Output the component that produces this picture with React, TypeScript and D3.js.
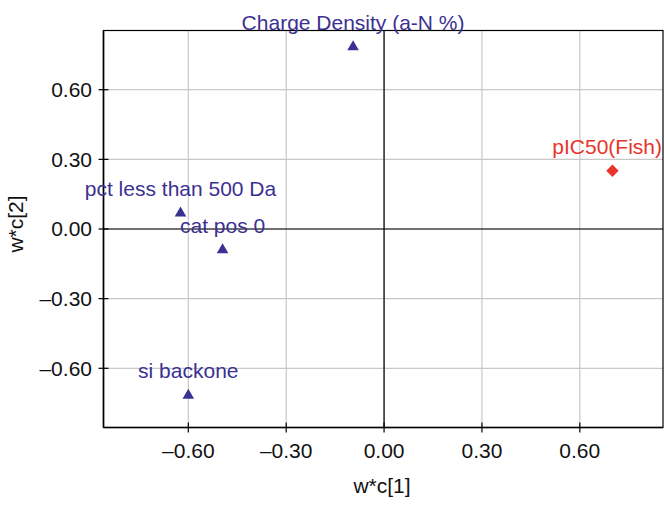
import React from "react";
import * as d3 from "d3";

const xTicks = [-0.6, -0.3, 0, 0.3, 0.6];
const yTicks = [-0.6, -0.3, 0, 0.3, 0.6];
const xTickLabels = ["\u20130.60", "\u20130.30", "0.00", "0.30", "0.60"];
const yTickLabels = ["\u20130.60", "\u20130.30", "0.00", "0.30", "0.60"];

const xLabels = ["Charge Density (a-N %)", "pct less than 500 Da", "cat pos 0", "si backone"];
const xValues = [-0.095, -0.624, -0.495, -0.6];
const yValues = [0.784, 0.068, -0.09, -0.717];

const yLabels = ["pIC50(Fish)"];
const yxValues = [0.7];
const yyValues = [0.251];

const W = 664;
const H = 505;
const left = 103.5;
const right = 663;
const top = 30.5;
const bottom = 427.5;
const FONT = "'Liberation Sans', Arial, Helvetica, sans-serif";
const BLUE = "#3b3192";
const RED = "#e8342b";

let ctx: CanvasRenderingContext2D | null = null;
function textWidth(s: string, fs: number): number {
  if (typeof document !== "undefined") {
    if (!ctx) ctx = document.createElement("canvas").getContext("2d");
    if (ctx) {
      ctx.font = `${fs}px 'Liberation Sans', Arial, sans-serif`;
      return ctx.measureText(s).width;
    }
  }
  return s.length * fs * 0.55;
}

export default function App() {
  const x = d3.scaleLinear().domain([-0.86, 0.855]).range([left, right]);
  const y = d3.scaleLinear().domain([-0.855, 0.855]).range([bottom, top]);
  const tri = d3.symbol().type(d3.symbolTriangle).size(58)() as string;
  const sq = d3.symbol().type(d3.symbolSquare).size(76)() as string;
  const fs = 21;

  const labelX = (px: number, s: string) => {
    const hw = textWidth(s, fs) / 2;
    return Math.max(hw + 2, Math.min(px, W - 2 - hw));
  };

  return (
    <svg width={W} height={H} style={{ position: "absolute", left: 0, top: 0 }} fontFamily={FONT}>
      <rect width={W} height={H} fill="#fff" />
      {xTicks.map((t, i) => (
        <line key={"gx" + i} x1={x(t)} x2={x(t)} y1={top} y2={bottom} stroke="#c8c8c8" strokeWidth={1.2} />
      ))}
      {yTicks.map((t, i) => (
        <line key={"gy" + i} x1={left} x2={right} y1={y(t)} y2={y(t)} stroke="#c8c8c8" strokeWidth={1.2} />
      ))}
      <line x1={x(0)} x2={x(0)} y1={top} y2={bottom} stroke="#000" strokeWidth={1.2} />
      <line x1={left} x2={right} y1={y(0)} y2={y(0)} stroke="#000" strokeWidth={1.2} />
      <rect x={left} y={top} width={right - left} height={bottom - top} fill="none" stroke="#000" strokeWidth={1.2} />
      <line x1={left} x2={left} y1={top} y2={bottom} stroke="#000" strokeWidth={1.6} />
      <line x1={left} x2={right} y1={bottom} y2={bottom} stroke="#000" strokeWidth={1.6} />
      {xTicks.map((t, i) => (
        <g key={"tx" + i}>
          <line x1={x(t)} x2={x(t)} y1={bottom - 5} y2={bottom + 5} stroke="#000" strokeWidth={1.2} />
          <text x={x(t)} y={458} textAnchor="middle" fontSize={fs} fill="#111">
            {xTickLabels[i]}
          </text>
        </g>
      ))}
      {yTicks.map((t, i) => (
        <g key={"ty" + i}>
          <line x1={left - 5} x2={left + 5} y1={y(t)} y2={y(t)} stroke="#000" strokeWidth={1.2} />
          <text x={left - 11.5} y={y(t)} dy="0.35em" textAnchor="end" fontSize={fs} fill="#111">
            {yTickLabels[i]}
          </text>
        </g>
      ))}
      <text x={382} y={493} textAnchor="middle" fontSize={fs} fill="#111">
        w*c[1]
      </text>
      <text transform="translate(23,224) rotate(-90)" textAnchor="middle" fontSize={fs} fill="#111">
        w*c[2]
      </text>
      {xValues.map((v, i) => (
        <g key={"p" + i}>
          <path d={tri} transform={`translate(${x(v)},${y(yValues[i])})`} fill={BLUE} />
          <text x={labelX(x(v), xLabels[i])} y={y(yValues[i]) - 17} textAnchor="middle" fontSize={fs} fill={BLUE}>
            {xLabels[i]}
          </text>
        </g>
      ))}
      {yxValues.map((v, i) => (
        <g key={"r" + i}>
          <path d={sq} transform={`translate(${x(v)},${y(yyValues[i])}) rotate(45)`} fill={RED} />
          <text x={labelX(x(v), yLabels[i])} y={y(yyValues[i]) - 17} textAnchor="middle" fontSize={fs} fill={RED}>
            {yLabels[i]}
          </text>
        </g>
      ))}
    </svg>
  );
}
